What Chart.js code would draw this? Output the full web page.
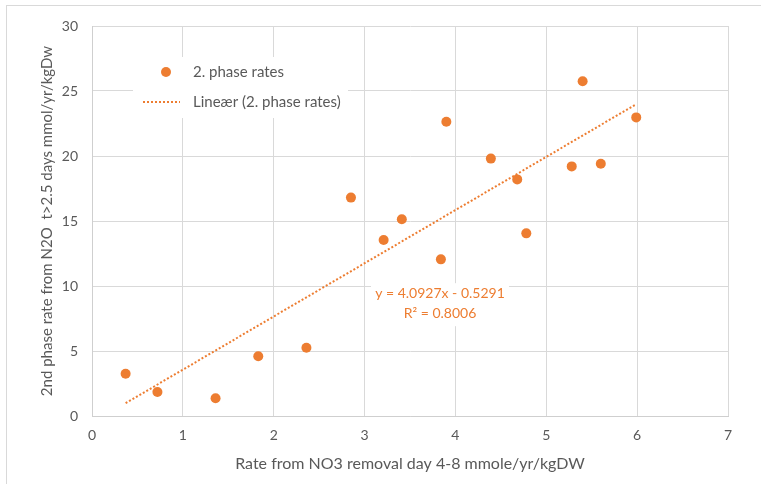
<!DOCTYPE html>
<html>
<head>
<meta charset="utf-8">
<script src="https://cdn.jsdelivr.net/npm/chart.js@4/dist/chart.umd.min.js"></script>
<style>
    html, body { margin: 0; padding: 0; background: #fff; }
    .frame { position: absolute; left: 6px; top: 5px; width: 820px; height: 560px; border: 1px solid #d9d9d9; }
    #n2oChart { position: absolute; left: 0; top: 0; }
</style>
</head>
<body>
<div class="frame"></div>
<canvas id="n2oChart" width="761" height="484"></canvas>
<script>
    // NO3 removal rate (day 4-8) vs. 2nd phase N2O rate, one point per sample
    const rateNO3 = [0.37, 0.72, 1.36, 1.83, 2.36, 2.85, 3.21, 3.41, 3.84, 3.90, 4.39, 4.68, 4.78, 5.28, 5.40, 5.60, 5.99];
    const rateN2O = [3.25, 1.85, 1.36, 4.6, 5.25, 16.8, 13.54, 15.13, 12.05, 22.64, 19.8, 18.2, 14.05, 19.2, 25.75, 19.4, 22.97];
    const xTicks = [0, 1, 2, 3, 4, 5, 6, 7];
    const yTicks = [0, 5, 10, 15, 20, 25, 30];

    // linear trendline as reported
    const trendSlope = 4.0927;
    const trendIntercept = -0.5291;
    const trendR2 = 0.8006;

    const orange = '#ED7D31';
    const textGray = '#595959';
    const gridGray = '#d9d9d9';
    const fontFamily = 'Lato, "Open Sans", sans-serif';

    const points = rateNO3.map((x, i) => ({ x, y: rateN2O[i] }));
    const xMin = Math.min(...rateNO3), xMax = Math.max(...rateNO3);
    const trend = [xMin, xMax].map(x => ({ x, y: trendSlope * x + trendIntercept }));

    const seriesName = '2. phase rates';
    const trendName = 'Lineær (2. phase rates)';
    const eqLines = [
        `y = ${trendSlope}x - ${Math.abs(trendIntercept)}`,
        `R² = ${trendR2.toFixed(4)}`
    ];

    // legend box and equation label sit inside the plot, covering the grid
    const overlay = {
        id: 'overlay',
        beforeDatasetsDraw(chart) {
            const { ctx, scales: { x, y } } = chart;
            ctx.save();
            ctx.textBaseline = 'middle';

            // legend
            ctx.fillStyle = '#fff';
            ctx.fillRect(133, 57, 215, 61);
            ctx.fillStyle = orange;
            ctx.beginPath();
            ctx.arc(166, 72, 5, 0, Math.PI * 2);
            ctx.fill();
            ctx.strokeStyle = orange;
            ctx.lineWidth = 2;
            ctx.setLineDash([2, 2]);
            ctx.beginPath();
            ctx.moveTo(143, 102);
            ctx.lineTo(180, 102);
            ctx.stroke();
            ctx.setLineDash([]);
            ctx.font = `15px ${fontFamily}`;
            ctx.fillStyle = textGray;
            ctx.textAlign = 'left';
            ctx.fillText(seriesName, 193, 72);
            ctx.fillText(trendName, 193, 102);

            // trendline equation
            const cx = x.getPixelForValue(3.83);
            const cy = y.getPixelForValue(8.6);
            ctx.fillStyle = '#fff';
            ctx.fillRect(cx - 69, cy - 21, 138, 43);
            ctx.font = `14px ${fontFamily}`;
            ctx.fillStyle = orange;
            ctx.textAlign = 'center';
            ctx.fillText(eqLines[0], cx, cy - 11);
            ctx.fillText(eqLines[1], cx, cy + 9);
            ctx.restore();
        }
    };

    new Chart(document.getElementById('n2oChart'), {
        type: 'scatter',
        data: {
            datasets: [
                {
                    label: seriesName, data: points,
                    backgroundColor: orange, borderColor: orange,
                    pointRadius: 5, pointHoverRadius: 5, pointBorderWidth: 0
                },
                {
                    label: trendName, data: trend, showLine: true,
                    borderColor: orange, borderWidth: 2, borderDash: [2, 2],
                    pointRadius: 0, fill: false
                }
            ]
        },
        options: {
            responsive: false,
            animation: false,
            layout: { padding: { left: 0, right: 33, top: 26, bottom: 0 } },
            plugins: { legend: { display: false }, tooltip: { enabled: false } },
            scales: {
                x: {
                    type: 'linear', min: 0, max: 7,
                    afterFit: s => { s.height = 68; },
                    afterBuildTicks: s => { s.ticks = xTicks.map(value => ({ value })); },
                    grid: { color: gridGray, drawTicks: false },
                    border: { color: '#cfcfcf' },
                    ticks: { color: textGray, padding: 11, font: { family: fontFamily, size: 14 } },
                    title: {
                        display: true, text: 'Rate from NO3 removal day 4-8 mmole/yr/kgDW',
                        color: textGray, font: { family: fontFamily, size: 16 },
                        padding: { top: 0, bottom: 11 }
                    }
                },
                y: {
                    type: 'linear', min: 0, max: 30,
                    afterFit: s => { s.width = 92; },
                    afterBuildTicks: s => { s.ticks = yTicks.map(value => ({ value })); },
                    grid: { color: gridGray, drawTicks: false },
                    border: { color: '#cfcfcf' },
                    ticks: { color: textGray, padding: 14, font: { family: fontFamily, size: 14 } },
                    title: {
                        display: true, text: '2nd phase rate from N2O  t>2.5 days mmol/yr/kgDw',
                        color: textGray, font: { family: fontFamily, size: 15 },
                        padding: { top: 38, bottom: 0 }
                    }
                }
            }
        },
        plugins: [overlay]
    });
</script>
</body>
</html>
